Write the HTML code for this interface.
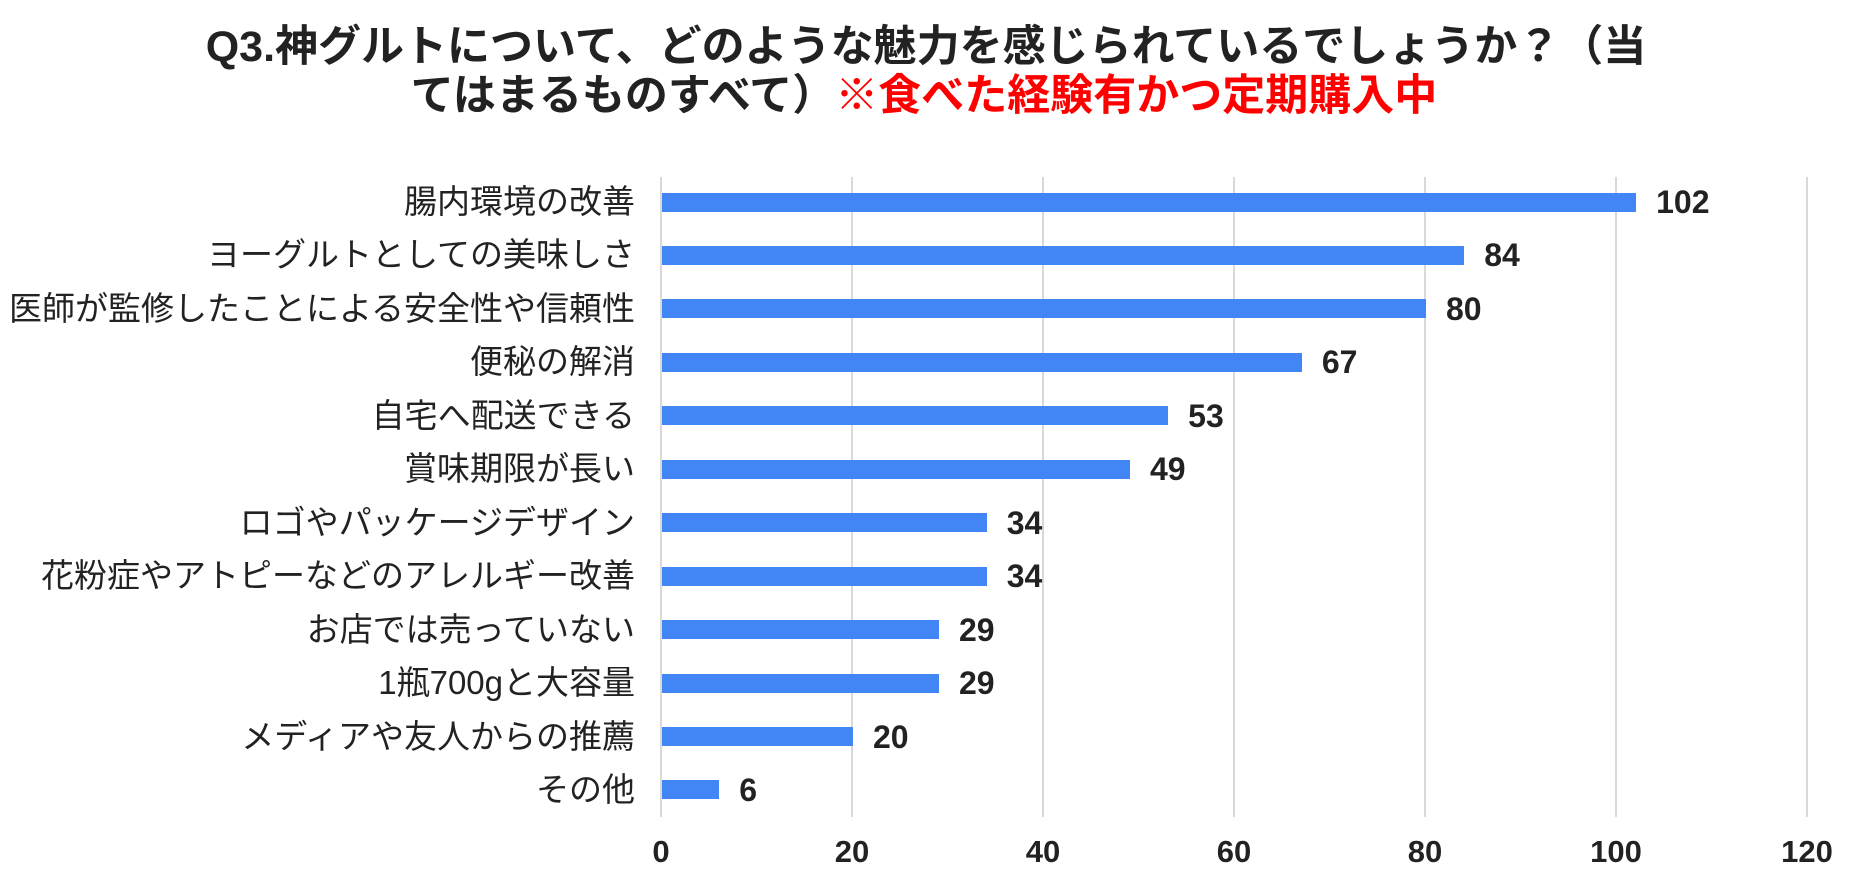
<!DOCTYPE html>
<html><head><meta charset="utf-8"><style>
body{margin:0;width:1852px;height:872px;background:#fff;position:relative;overflow:hidden;font-family:"Liberation Sans","Noto Sans CJK JP",sans-serif;}
.t{position:absolute;left:0;width:1852px;text-align:center;font-weight:bold;font-size:43px;color:#222;line-height:50px;white-space:nowrap;}
.g{position:absolute;top:177px;height:640px;width:2px;background:#d9d9d9;}
.b{position:absolute;left:662px;height:19px;background:#4285f4;}
.l{position:absolute;right:1217px;font-size:33px;color:#222;white-space:nowrap;line-height:36px;}
.v{position:absolute;font-size:32px;font-weight:bold;color:#222;line-height:36px;}
.x{position:absolute;top:834px;width:100px;margin-left:-50px;text-align:center;font-size:31px;font-weight:bold;color:#222;line-height:36px;}
</style></head><body>
<div class="t" style="top:22px;left:0px">Q3.神グルトについて、どのような魅力を感じられているでしょうか？（当</div>
<div class="t" style="top:71px;left:-2px">てはまるものすべて）<span style="color:#f00">※食べた経験有かつ定期購入中</span></div>
<div class="g" style="left:660px"></div>
<div class="g" style="left:851px"></div>
<div class="g" style="left:1042px"></div>
<div class="g" style="left:1233px"></div>
<div class="g" style="left:1424px"></div>
<div class="g" style="left:1615px"></div>
<div class="g" style="left:1806px"></div>
<div id="c"></div>
<div class="x" style="left:661px">0</div>
<div class="x" style="left:852px">20</div>
<div class="x" style="left:1043px">40</div>
<div class="x" style="left:1234px">60</div>
<div class="x" style="left:1425px">80</div>
<div class="x" style="left:1616px">100</div>
<div class="x" style="left:1807px">120</div>
<script>
var d=[["腸内環境の改善",102],["ヨーグルトとしての美味しさ",84],["医師が監修したことによる安全性や信頼性",80],["便秘の解消",67],["自宅へ配送できる",53],["賞味期限が長い",49],["ロゴやパッケージデザイン",34],["花粉症やアトピーなどのアレルギー改善",34],["お店では売っていない",29],["1瓶700gと大容量",29],["メディアや友人からの推薦",20],["その他",6]];
var h="";
d.forEach(function(r,i){var cy=202+i*53.45;var w=r[1]*9.55;
h+='<div class="b" style="top:'+(cy-9.5)+'px;width:'+w+'px"></div>';
h+='<div class="l" style="top:'+(cy-18)+'px">'+r[0]+'</div>';
h+='<div class="v" style="top:'+(cy-18)+'px;left:'+(662+w+20)+'px">'+r[1]+'</div>';});
document.getElementById("c").innerHTML=h;
</script>
</body></html>
